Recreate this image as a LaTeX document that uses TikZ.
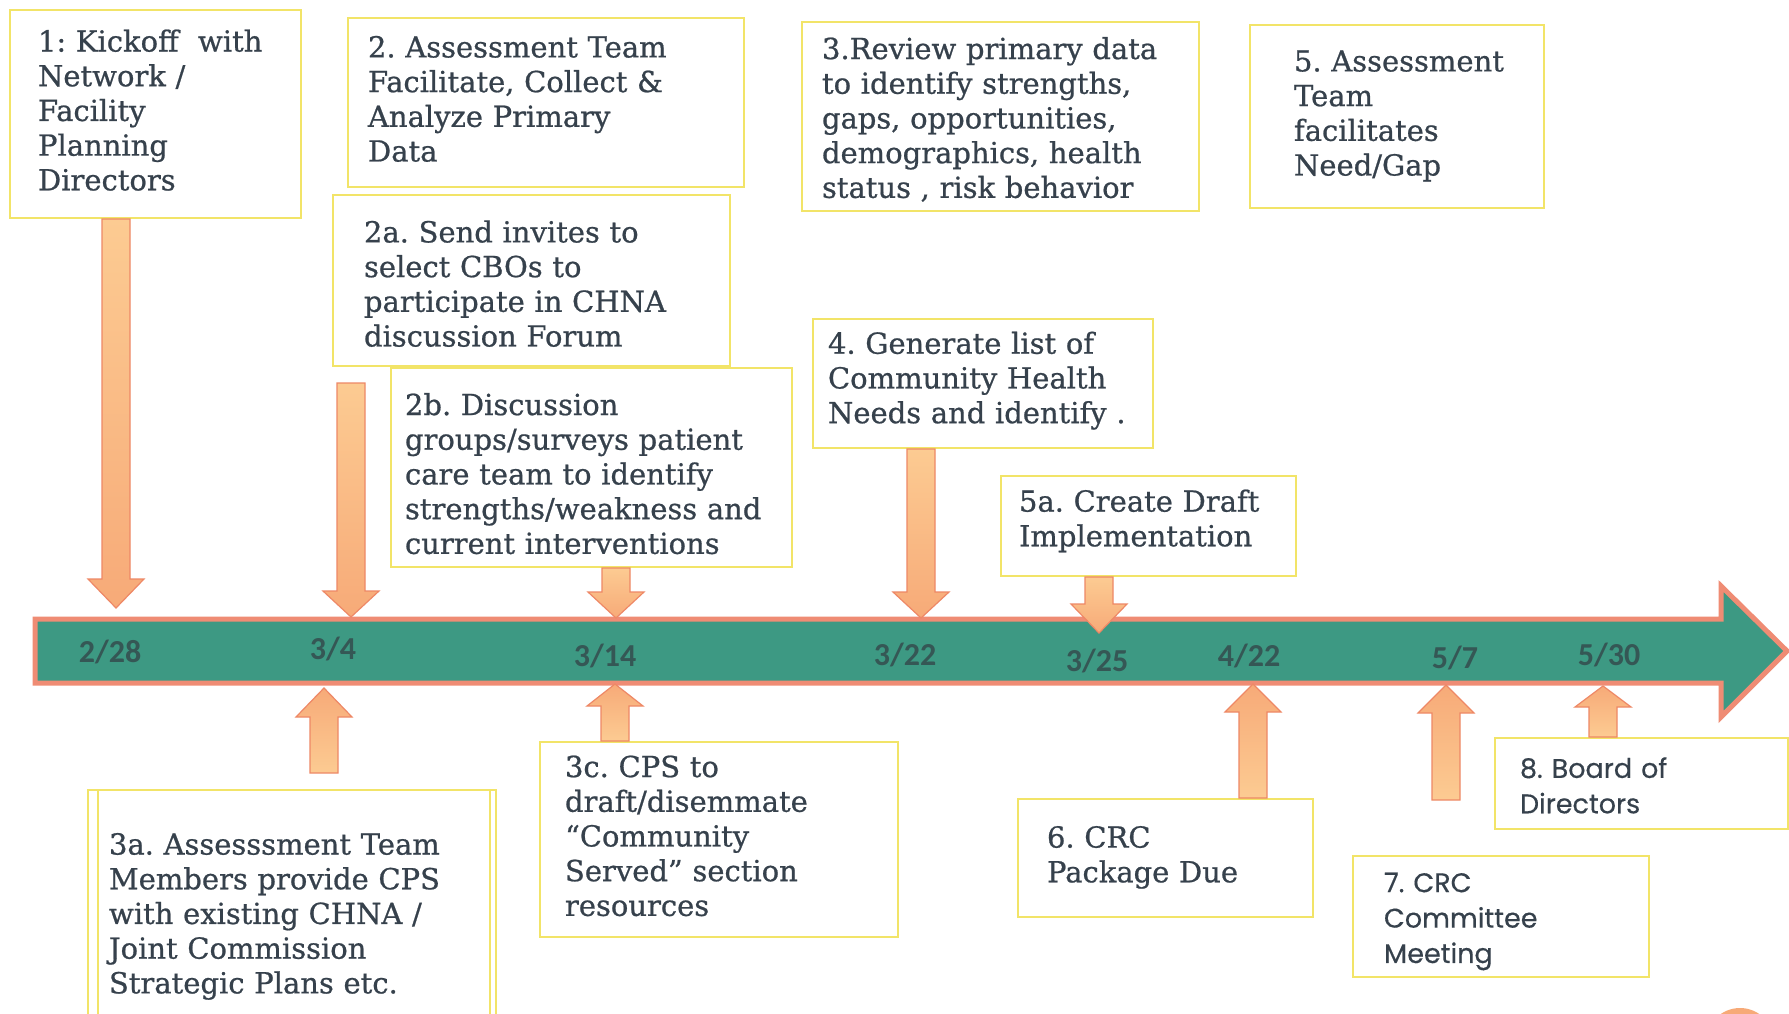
\documentclass[tikz,border=0pt]{standalone}
\usepackage{fontspec}
\setmainfont{DejaVu Serif}[FakeBold=0.7]
\newfontfamily\gothicfont{Poppins}[FakeBold=0.4]
\newfontfamily\datefont{Carlito}
\usetikzlibrary{calc}
\frenchspacing
\definecolor{boxyel}{HTML}{F2E468}
\definecolor{txt}{HTML}{36414C}
\definecolor{teal}{HTML}{3D9983}
\definecolor{salmon}{HTML}{EF8C74}
\definecolor{arrline}{HTML}{EE8866}
\definecolor{arrlight}{HTML}{FCCB92}
\definecolor{arrdark}{HTML}{F7AA78}
\definecolor{datecol}{HTML}{355755}
\newcommand{\tb}[2]{\raisebox{#1pt}[\height][\depth]{\begin{tabular}{@{}l@{}}#2\end{tabular}}}
\newcommand{\dnarr}[5]{%
  \coordinate (#1x) at (#2,0);
  \coordinate (#1t) at (#3 -| #1x);
  \path[blockdn] ($(#1t)+(-14,0)$) -- ($(#1t)+(14,0)$) -- (#2+14,#4) -- (#2+28,#4)
     -- (#2,#5) -- (#2-28,#4) -- (#2-14,#4) -- cycle;}
\newcommand{\uparr}[5]{%
  \coordinate (#1x) at (#2,0);
  \coordinate (#1b) at (#3 -| #1x);
  \path[blockup] ($(#1b)+(-14,0)$) -- ($(#1b)+(14,0)$) -- (#2+14,#4) -- (#2+28,#4)
     -- (#2,#5) -- (#2-28,#4) -- (#2-14,#4) -- cycle;}
\tikzset{
  box/.style n args={4}{draw=boxyel, line width=2pt, fill=white, anchor=north west,
    minimum width=#1, minimum height=#2, inner xsep=#3, inner ysep=0pt,
    text width=#4, align=left, text=txt,
    font=\frenchspacing\fontsize{29pt}{34.7pt}\selectfont},
  gothic/.style={font=\frenchspacing\gothicfont\fontsize{27pt}{35.4pt}\selectfont},
  datelbl/.style={text=datecol, inner sep=0pt,
    font=\datefont\bfseries\fontsize{32pt}{36pt}\selectfont},
  blockdn/.style={draw=arrline, line width=1.2pt, top color=arrlight, bottom color=arrdark},
  blockup/.style={draw=arrline, line width=1.2pt, top color=arrdark, bottom color=arrlight},
  timeline/.style={draw=salmon, line width=5pt, fill=teal, line join=miter},
}
\begin{document}
\begin{tikzpicture}[x=1pt,y=-1pt]
\useasboundingbox (0,0) rectangle (1789,1013);
\clip (0,0) rectangle (1789,1013);
\fill[white] (0,0) rectangle (1789,1013);

% boxes above the timeline
\node[box={291}{208}{28}{235}] (b1) at (9,9)
  {\tb{0}{1: Kickoff\ \ with\\Network /\\Facility\\Planning\\Directors}};
\node[box={396}{169}{20}{356}] (b2) at (347,17)
  {\tb{0}{2. Assessment Team\\Facilitate, Collect \&\\Analyze Primary\\Data}};
\node[box={397}{171}{31}{335}] (b2a) at (332,194)
  {\tb{-7}{2a. Send invites to\\select CBOs to\\participate in CHNA\\discussion Forum}};
\node[box={401}{199}{14}{373}] (b2b) at (390,367)
  {\tb{-10}{2b. Discussion\\groups/surveys patient\\care team to identify\\strengths/weakness and\\current interventions}};
\node[box={397}{189}{20}{357}] (b3) at (801,21)
  {\tb{-5}{3.Review primary data\\to identify strengths,\\gaps, opportunities,\\demographics, health\\status , risk behavior}};
\node[box={294}{183}{44}{206}] (b5) at (1249,24)
  {\tb{0}{5. Assessment\\Team\\facilitates\\Need/Gap}};
\node[box={340}{129}{15}{310}] (b4) at (812,318)
  {\tb{2}{4. Generate list of\\Community Health\\Needs and identify .}};
\node[box={295}{100}{18}{259}] (b5a) at (1000,475)
  {\tb{4}{5a. Create Draft\\Implementation}};

% boxes below the timeline
\node[box={408}{240}{21}{366}] (b3a) at (87,789)
  {\tb{-7}{3a. Assesssment Team\\Members provide CPS\\with existing CHNA /\\Joint Commission\\Strategic Plans etc.}};
\draw[draw=boxyel, line width=2pt] ([xshift=11pt]b3a.north west) -- ([xshift=11pt]b3a.south west);
\draw[draw=boxyel, line width=2pt] ([xshift=-7pt]b3a.north east) -- ([xshift=-7pt]b3a.south east);
\node[box={358}{195}{25}{308}] (b3c) at (539,741)
  {\tb{0}{3c. CPS to\\draft/disemmate\\“Community\\Served” section\\resources}};
\node[box={295}{118}{29}{237}] (b6) at (1017,798)
  {\tb{0}{6. CRC\\Package Due}};
\node[box={296}{121}{31}{234}, gothic] (b7) at (1352,855)
  {\tb{-4}{7. CRC\\Committee\\Meeting}};
\node[box={293}{91}{25}{243}, gothic] (b8) at (1494,737)
  {\tb{-5}{8. Board of\\Directors}};

% timeline arrow
\path[timeline] (35,619) -- (1721,619) -- (1721,586) -- (1787,651) -- (1721,717)
  -- (1721,683) -- (35,683) -- cycle;
\coordinate (tl) at (35,651);

% down arrows
\coordinate (a2top) at (351,383);
\dnarr{A1}{116}{b1.south}{579}{608}
\dnarr{A2}{351}{a2top}{591}{617}
\dnarr{A2b}{616}{b2b.south}{592}{618}
\dnarr{A4}{921}{b4.south}{592}{618}
\dnarr{A5a}{1099}{b5a.south}{604}{633}

% up arrows
\coordinate (u3abot) at (324,773);
\coordinate (u7bot) at (1446,800);
\uparr{U3a}{324}{u3abot}{717}{688}
\uparr{U3c}{615}{b3c.north}{706}{684}
\uparr{U6}{1253}{b6.north}{712}{684}
\uparr{U7}{1446}{u7bot}{713}{685}
\uparr{U8}{1603}{b8.north}{707}{686}

% dates
\node[datelbl] (d1) at (110,652) {2/28};
\node[datelbl] (d2) at (333,649) {3/4};
\node[datelbl] (d3) at (605,656) {3/14};
\node[datelbl] (d4) at (905,655) {3/22};
\node[datelbl] (d5) at (1097,661) {3/25};
\node[datelbl] (d6) at (1249,656) {4/22};
\node[datelbl] (d7) at (1455,658) {5/7};
\node[datelbl] (d8) at (1609,655) {5/30};

% partial circle at the lower right corner
\fill[arrdark] (1740,1042) circle (34);
\end{tikzpicture}
\end{document}
